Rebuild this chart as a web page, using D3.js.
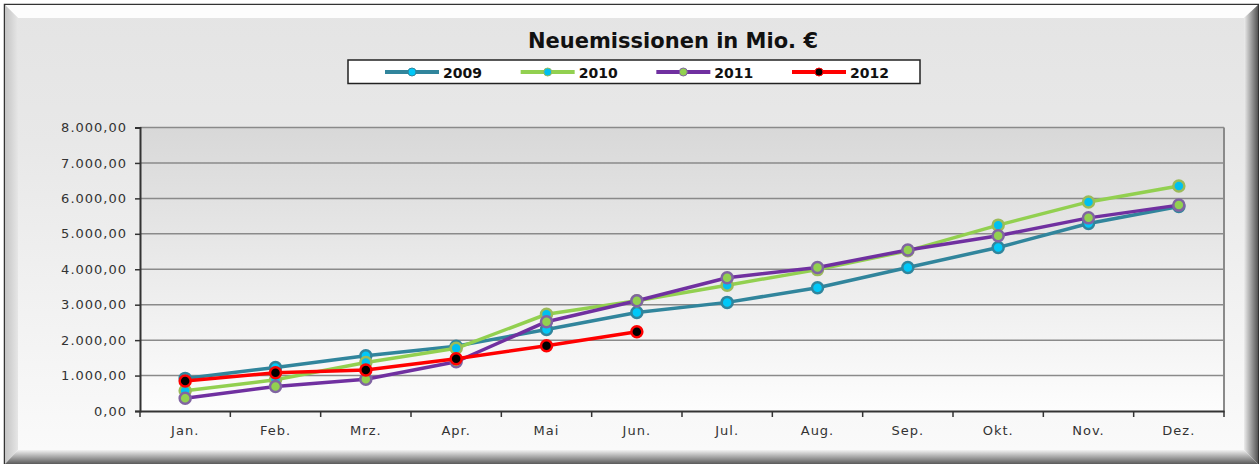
<!DOCTYPE html>
<html>
<head>
<meta charset="utf-8">
<script src="https://cdn.jsdelivr.net/npm/d3@7"></script>
<style>
  body { margin: 0; background: #ffffff; }
  svg text { font-family: "DejaVu Sans", Verdana, sans-serif; }
</style>
</head>
<body>
<svg id="chart"></svg>
<script>
// data
var months = ["Jan.", "Feb.", "Mrz.", "Apr.", "Mai", "Jun.", "Jul.", "Aug.", "Sep.", "Okt.", "Nov.", "Dez."]
var years = ["2009", "2010", "2011", "2012"]
var values2009 = [920, 1230, 1560, 1830, 2300, 2780, 3065, 3480, 4050, 4615, 5290, 5770]
var values2010 = [570, 880, 1370, 1770, 2730, 3110, 3550, 3990, 4520, 5245, 5900, 6350]
var values2011 = [360, 690, 895, 1390, 2520, 3110, 3760, 4050, 4545, 4945, 5450, 5810]
var values2012 = [845, 1080, 1155, 1475, 1840, 2235]
var yTicks = [0, 1000, 2000, 3000, 4000, 5000, 6000, 7000, 8000]

var screen = {width: 1259, height: 464}
var plot = {left: 140, right: 1224, top: 127.5, bottom: 411}

var series = [
  {name: years[0], values: values2009, line: "#31859c", dot: "#00c8f8", dotStroke: "#31859c"},
  {name: years[1], values: values2010, line: "#92d050", dot: "#00c0f0", dotStroke: "#9bbb59"},
  {name: years[2], values: values2011, line: "#7030a0", dot: "#92d050", dotStroke: "#8064a2"},
  {name: years[3], values: values2012, line: "#ff0000", dot: "#000000", dotStroke: "#ff0000"}
]

var de = d3.formatLocale({decimal: ",", thousands: ".", grouping: [3], currency: ["", " €"]})
var fmt = de.format(",.2f")

var svg = d3.select("#chart")
  .attr("width", screen.width)
  .attr("height", screen.height)

var defs = svg.append("defs")

var bg = defs.append("linearGradient").attr("id", "bgGrad").attr("x1", 0).attr("y1", 0).attr("x2", 0).attr("y2", 1)
bg.append("stop").attr("offset", "0%").attr("stop-color", "#e4e4e4")
bg.append("stop").attr("offset", "30%").attr("stop-color", "#e8e8e8")
bg.append("stop").attr("offset", "100%").attr("stop-color", "#fbfbfb")

var pg = defs.append("linearGradient").attr("id", "plotGrad").attr("x1", 0).attr("y1", 0).attr("x2", 0).attr("y2", 1)
pg.append("stop").attr("offset", "0%").attr("stop-color", "#d8d8d8")
pg.append("stop").attr("offset", "100%").attr("stop-color", "#fdfdfd")

var lg = defs.append("linearGradient").attr("id", "leftGrad").attr("x1", 0).attr("y1", 0).attr("x2", 1).attr("y2", 0)
lg.append("stop").attr("offset", "0%").attr("stop-color", "#c4c4c4")
lg.append("stop").attr("offset", "100%").attr("stop-color", "#e6e6e6")

var rg = defs.append("linearGradient").attr("id", "rightGrad").attr("x1", 0).attr("y1", 0).attr("x2", 1).attr("y2", 0)
rg.append("stop").attr("offset", "0%").attr("stop-color", "#ededed")
rg.append("stop").attr("offset", "100%").attr("stop-color", "#555555")

var bgr = defs.append("linearGradient").attr("id", "bottomGrad").attr("x1", 0).attr("y1", 0).attr("x2", 0).attr("y2", 1)
bgr.append("stop").attr("offset", "0%").attr("stop-color", "#f2f2f2")
bgr.append("stop").attr("offset", "100%").attr("stop-color", "#5a5a5a")

// frame with bevel
svg.append("rect").attr("x", 4.5).attr("y", 4.5).attr("width", 1254).attr("height", 462)
  .attr("fill", "url(#bgGrad)").attr("stroke", "#333").attr("stroke-width", 1.5)
svg.append("path").attr("d", "M5,5 L1258,5 L1244,18 L18,18 Z").attr("fill", "#fdfdfd")
svg.append("path").attr("d", "M5,5 L18,18 L18,450 L5,464 Z").attr("fill", "url(#leftGrad)")
svg.append("path").attr("d", "M1258,5 L1258,464 L1244,450 L1244,18 Z").attr("fill", "url(#rightGrad)")
svg.append("path").attr("d", "M5,464 L18,450 L1244,450 L1258,464 Z").attr("fill", "url(#bottomGrad)")

var xScale = d3.scaleBand().domain(months).range([plot.left, plot.right]).padding(0)
var yScale = d3.scaleLinear().domain([0, 8000]).range([plot.bottom, plot.top])
var cx = function(i) { return xScale(months[i]) + xScale.bandwidth() / 2 }

// plot area
svg.append("rect").attr("x", plot.left).attr("y", plot.top)
  .attr("width", plot.right - plot.left).attr("height", plot.bottom - plot.top)
  .attr("fill", "url(#plotGrad)")

svg.append("g").selectAll("line").data(yTicks.slice(1)).enter().append("line")
  .attr("x1", plot.left).attr("x2", plot.right)
  .attr("y1", function(d) { return yScale(d) }).attr("y2", function(d) { return yScale(d) })
  .attr("stroke", "#8a8a8a").attr("stroke-width", 1.5)

svg.append("line").attr("x1", plot.right).attr("x2", plot.right)
  .attr("y1", plot.top).attr("y2", plot.bottom)
  .attr("stroke", "#8a8a8a").attr("stroke-width", 2)

// y axis
var yAxis = svg.append("g").attr("transform", "translate(" + plot.left + ",0)")
  .call(d3.axisLeft(yScale).tickValues(yTicks).tickFormat(fmt).tickSize(5).tickPadding(8))
yAxis.select(".domain").attr("stroke", "#333").attr("stroke-width", 2)
yAxis.selectAll(".tick line").attr("stroke", "#333").attr("stroke-width", 1.5)
yAxis.selectAll("text").attr("font-size", 13).attr("fill", "#333")
  .attr("letter-spacing", 1).attr("font-family", "DejaVu Sans")

// x axis
var xAxis = svg.append("g").attr("transform", "translate(0," + plot.bottom + ")")
  .call(d3.axisBottom(xScale).tickSize(0).tickPadding(15))
xAxis.select(".domain").attr("stroke", "#333").attr("stroke-width", 2)
xAxis.selectAll("text").attr("font-size", 13).attr("fill", "#333")
  .attr("letter-spacing", 1).attr("font-family", "DejaVu Sans")
xAxis.selectAll(".boundary").data(months.concat(["end"])).enter().append("line")
  .attr("x1", function(d) { return d === "end" ? plot.right : xScale(d) })
  .attr("x2", function(d) { return d === "end" ? plot.right : xScale(d) })
  .attr("y1", 0).attr("y2", 6)
  .attr("stroke", "#333").attr("stroke-width", 1.5)

// series
var lineGenerator = d3.line()
  .x(function(v, i) { return cx(i) })
  .y(function(v) { return yScale(v) })

series.forEach(function(s) {
  var g = svg.append("g")
  g.append("path").datum(s.values).attr("d", lineGenerator)
    .attr("fill", "none").attr("stroke", s.line).attr("stroke-width", 3.5)
    .attr("stroke-linejoin", "round")
  g.selectAll("circle").data(s.values).enter().append("circle")
    .attr("cx", function(v, i) { return cx(i) })
    .attr("cy", function(v) { return yScale(v) })
    .attr("r", 5.5)
    .attr("fill", s.dot).attr("stroke", s.dotStroke).attr("stroke-width", 2.5)
})

// title
svg.append("text").attr("x", 673).attr("y", 48).attr("text-anchor", "middle")
  .attr("font-size", 21).attr("font-weight", "bold").attr("fill", "#111")
  .text("Neuemissionen in Mio. €")

// legend
svg.append("rect").attr("x", 348).attr("y", 60).attr("width", 572).attr("height", 23.5)
  .attr("fill", "#ffffff").attr("stroke", "#222").attr("stroke-width", 1.5)

var legendX = d3.scalePoint().domain(years).range([385, 792])
var items = svg.append("g").selectAll("g").data(series).enter().append("g")
  .attr("transform", function(s) { return "translate(" + legendX(s.name) + ",72)" })
items.append("line").attr("x1", 0).attr("x2", 54).attr("y1", 0).attr("y2", 0)
  .attr("stroke", function(s) { return s.line }).attr("stroke-width", 4)
items.append("circle").attr("cx", 27).attr("cy", 0).attr("r", 4)
  .attr("fill", function(s) { return s.dot }).attr("stroke", function(s) { return s.dotStroke }).attr("stroke-width", 1)
items.append("text").attr("x", 58).attr("y", 5.5)
  .attr("font-size", 14).attr("font-weight", "bold").attr("fill", "#111")
  .text(function(s) { return s.name })
</script>
</body>
</html>
